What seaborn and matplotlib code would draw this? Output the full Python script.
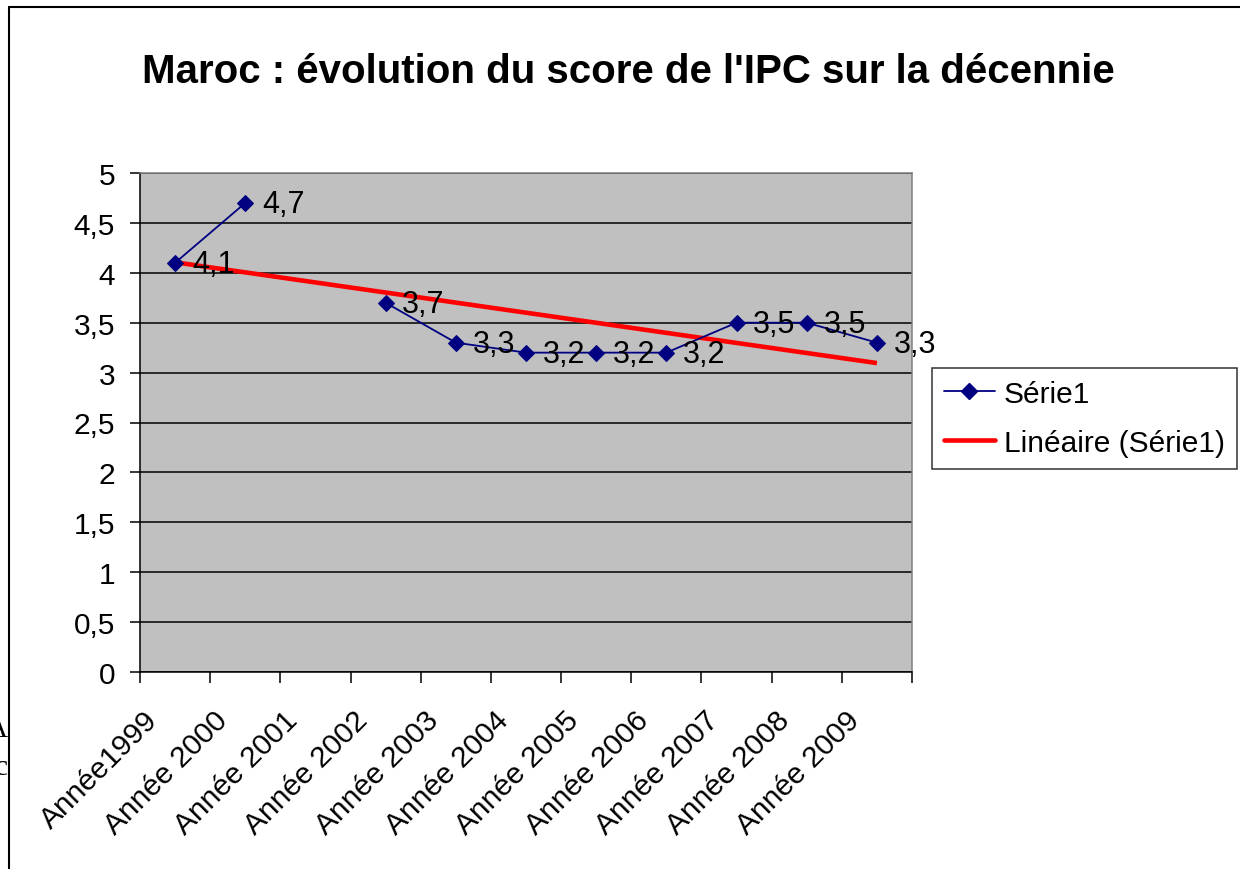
import numpy as np
import pandas as pd
import matplotlib
matplotlib.use("Agg")
import matplotlib.pyplot as plt
import matplotlib.transforms as mtransforms
from matplotlib.lines import Line2D
import seaborn as sns

# chart values
annees = ["Année1999", "Année 2000", "Année 2001", "Année 2002", "Année 2003",
          "Année 2004", "Année 2005", "Année 2006", "Année 2007", "Année 2008",
          "Année 2009"]
scores = [4.1, 4.7, np.nan, 3.7, 3.3, 3.2, 3.2, 3.2, 3.5, 3.5, 3.3]
titre = "Maroc : évolution du score de l'IPC sur la décennie"
y_ticks = [0, 0.5, 1, 1.5, 2, 2.5, 3, 3.5, 4, 4.5, 5]

sns.set_theme(style="white")
plt.rcParams["font.family"] = ["Liberation Sans", "DejaVu Sans"]
plt.rcParams["text.color"] = "black"
plt.rcParams["xtick.color"] = "black"
plt.rcParams["ytick.color"] = "black"

navy = "#000080"

df = pd.DataFrame({"pos": np.arange(len(annees)), "annee": annees, "score": scores})
# segment id so the missing year leaves a gap in the line
df["seg"] = df["score"].isna().cumsum()
pts = df.dropna(subset=["score"])

fig = plt.figure(figsize=(12.4, 8.7), dpi=100)
ax = fig.add_axes([140 / 1240, 1 - 673 / 870, 772 / 1240, 499 / 870])
ax.set_facecolor("#C0C0C0")

# linear trendline over the available points
sns.regplot(data=pts, x="pos", y="score", scatter=False, ci=None, truncate=True,
            color="red", line_kws={"lw": 3.3, "solid_capstyle": "butt", "zorder": 2}, ax=ax)

sns.lineplot(data=pts, x="pos", y="score", units="seg", estimator=None,
             color=navy, lw=1.3, marker="D", markersize=8, markeredgecolor=navy,
             zorder=3, legend=False, ax=ax)

for _, r in pts.iterrows():
    ax.annotate(f"{r['score']:g}".replace(".", ","), (r["pos"], r["score"]),
                xytext=(12, -1), textcoords="offset points", va="center", ha="left",
                fontsize=22, color="black", zorder=4)

ax.set_xlim(-0.5, len(annees) - 0.5)
ax.set_ylim(0, 5)
ax.set_yticks(y_ticks)
ax.set_yticklabels([f"{v:g}".replace(".", ",") for v in y_ticks])
ax.set_xticks(np.arange(-0.5, len(annees), 1))
ax.set_xticklabels([])
ax.set_xticks(np.arange(len(annees)), minor=True)
ax.set_xticklabels(annees, minor=True)
ax.set_xlabel("")
ax.set_ylabel("")

ax.yaxis.grid(True, color="black", lw=1.1)
ax.xaxis.grid(False)
ax.set_axisbelow(True)

ax.tick_params(axis="y", which="major", direction="out", length=7, width=1.1,
               color="black", labelsize=21.5, pad=11, left=True)
ax.tick_params(axis="x", which="major", direction="out", length=8, width=1.1,
               color="black", bottom=True)
ax.tick_params(axis="x", which="minor", length=0, labelsize=21.5, pad=31)

offset = mtransforms.ScaledTranslation(-0.22, 0, fig.dpi_scale_trans)
for lab in ax.get_xticklabels(minor=True):
    lab.set_rotation(45)
    lab.set_ha("right")
    lab.set_va("center")
    lab.set_rotation_mode("anchor")
    lab.set_transform(lab.get_transform() + offset)

for side in ["left", "bottom"]:
    ax.spines[side].set_color("black")
    ax.spines[side].set_linewidth(1.1)
for side in ["top", "right"]:
    ax.spines[side].set_color("#808080")
    ax.spines[side].set_linewidth(1.1)

fig.text(628 / 1240, 1 - 83 / 870, titre, ha="center", va="baseline",
         fontsize=29, fontweight="bold", color="black")

handles = [Line2D([], [], color=navy, lw=1.3, marker="D", markersize=8),
           Line2D([], [], color="red", lw=3.3)]
leg = fig.legend(handles, ["Série1", "Linéaire (Série1)"], loc="upper left",
                 bbox_to_anchor=(932 / 1240, 1 - 369 / 870), fontsize=21.5,
                 frameon=True, fancybox=False, handlelength=1.7, handletextpad=0.3,
                 borderpad=0.4, labelspacing=0.7, borderaxespad=0)
leg.get_frame().set_edgecolor("black")
leg.get_frame().set_linewidth(1.1)

# outer chart border (top and left edges are visible)
fig.add_artist(Line2D([9 / 1240, 9 / 1240], [0, 1 - 8 / 870],
                      transform=fig.transFigure, color="black", lw=1.5))
fig.add_artist(Line2D([9 / 1240, 1], [1 - 8 / 870, 1 - 8 / 870],
                      transform=fig.transFigure, color="black", lw=1.5))

# stray letters from the page behind the chart
fig.text(8 / 1240, 1 - 737 / 870, "A", ha="right", va="baseline", fontsize=21,
         family="Liberation Serif")
fig.text(8 / 1240, 1 - 775 / 870, "c", ha="right", va="baseline", fontsize=21,
         family="Liberation Serif")

fig.savefig("out.png", dpi=100)
